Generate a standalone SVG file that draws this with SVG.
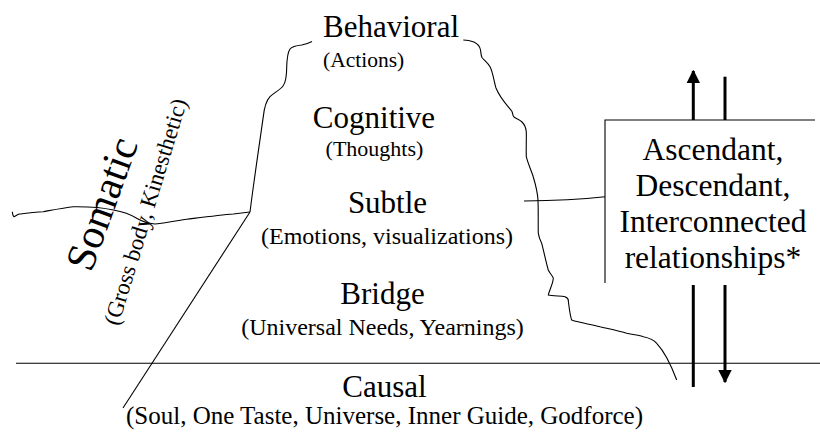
<svg xmlns="http://www.w3.org/2000/svg" width="820" height="433" viewBox="0 0 820 433">
<style>
text{font-family:"Liberation Serif","Times New Roman",serif;fill:#000}
.t{font-size:31px;text-anchor:middle}
.s{font-size:24px;text-anchor:middle}
.thin{fill:none;stroke:#000;stroke-width:1.1}
.thick{fill:none;stroke:#000;stroke-width:3}
</style>
<defs>
<marker id="ah" viewBox="0 0 10 10" refX="9" refY="5" markerWidth="4.6" markerHeight="4.6" orient="auto" markerUnits="strokeWidth">
<path d="M0,0 L10,5 L0,10 z" fill="#000"/>
</marker>
</defs>
<rect width="820" height="433" fill="#fff"/>
<g id="connectors">
<path class="thin" d="M16,363.3 H820"/>
<path class="thin" d="M12.3,211.7 Q12.8,216 14,216.7 Q15.5,216 18.3,214.3 C30,212.5 43,211.7 43.3,211.7 C55,209.5 65,207.5 73.3,206.7 C90,206.5 105,208 113.3,210 C122,211.5 130,214 136.7,218.3 C142,221.5 146,223.3 155,224 C170,222.5 180,220 186.7,219.3 C205,217 220,215 233.3,214 L250,212"/>
<path class="thin" d="M250,212 L123,408"/>
<path class="thin" d="M250,212 C254,180 260,140 263.3,116.7 C264,110 266,101 270,96.7 C275,92 280,90 283,86 C286,82 286.7,75 286.7,66.7 C287,58 288,52 290,49 C292,46.5 297,45.5 301.7,45 C306,44 309,43 312,41.5"/>
<path class="thin" d="M463.3,40 C466,40 470,40.5 474,42 C478,44 480,47 480.5,50 C481,53 481,56 482,57.5 C484,60 488,63 490,66.7 C493,72 494,82 496,88 C500,98 506,104 511.7,111 C513,113 512.5,116 514,117 C517,119 520,120 522,122 C525,125 526,128 526.3,132 C526.5,140 526,150 526.3,156.7 C528,164 532,172 533.3,177 C536,186 537.5,192 538,200 C538.5,215 538,225 538.3,233.3 C539,238 540,240 541.7,243.3 C544,252 546,262 548.3,270 C550,274 553,276 553.3,278.3 C553,284 549,291 548.3,295 C552,296 561,296 565,296.7 C568,298 568.5,300 568.3,301 C569,306 570,316 571.7,320 C580,323 590,324 600,326.7 C610,329 620,331 626.7,333.3 C635,335 640,335.5 643.3,336.7 C650,338 654,340 656.7,343.3 C663,350 670,362 676.7,380"/>
<path class="thin" d="M524,201 Q570,200.5 605,196.7"/>
<path class="thick" d="M693.3,120 V71" marker-end="url(#ah)"/>
<path class="thick" d="M725,76.7 V120"/>
<path class="thick" d="M693.3,285 V387"/>
<path class="thick" d="M725,285 V382" marker-end="url(#ah)"/>
</g>
<g id="behavioral">
<text x="323" y="37" style="font-size:31px">Behavioral</text>
<text x="323" y="67" style="font-size:21.5px">(Actions)</text>
</g>
<g id="cognitive">
<text class="t" x="374" y="128">Cognitive</text>
<text class="t" x="374.5" y="156" style="font-size:22px">(Thoughts)</text>
</g>
<g id="subtle">
<text class="t" x="387.5" y="213">Subtle</text>
<text class="s" x="387" y="244">(Emotions, visualizations)</text>
</g>
<g id="bridge">
<text class="t" x="382.5" y="304">Bridge</text>
<text class="s" x="382.5" y="335">(Universal Needs, Yearnings)</text>
</g>
<g id="causal">
<text class="t" x="384.5" y="397">Causal</text>
<text class="s" x="384.5" y="424" style="font-size:25px">(Soul, One Taste, Universe, Inner Guide, Godforce)</text>
</g>
<g id="somatic">
<text transform="translate(114.8,208.5) rotate(-70)" style="font-size:42px;text-anchor:middle">Somatic</text>
<text transform="translate(152.7,214) rotate(-73)" style="font-size:23px;text-anchor:middle">(Gross body, Kinesthetic)</text>
</g>
<g id="relationships">
<path class="thin" d="M605,283 V120 H815"/>
<text class="t" x="713" y="160" style="font-size:31.5px">Ascendant,</text>
<text class="t" x="713" y="196" style="font-size:31.5px">Descendant,</text>
<text class="t" x="713" y="232" style="font-size:31.5px">Interconnected</text>
<text class="t" x="713" y="268" style="font-size:31.5px">relationships*</text>
</g>
</svg>
